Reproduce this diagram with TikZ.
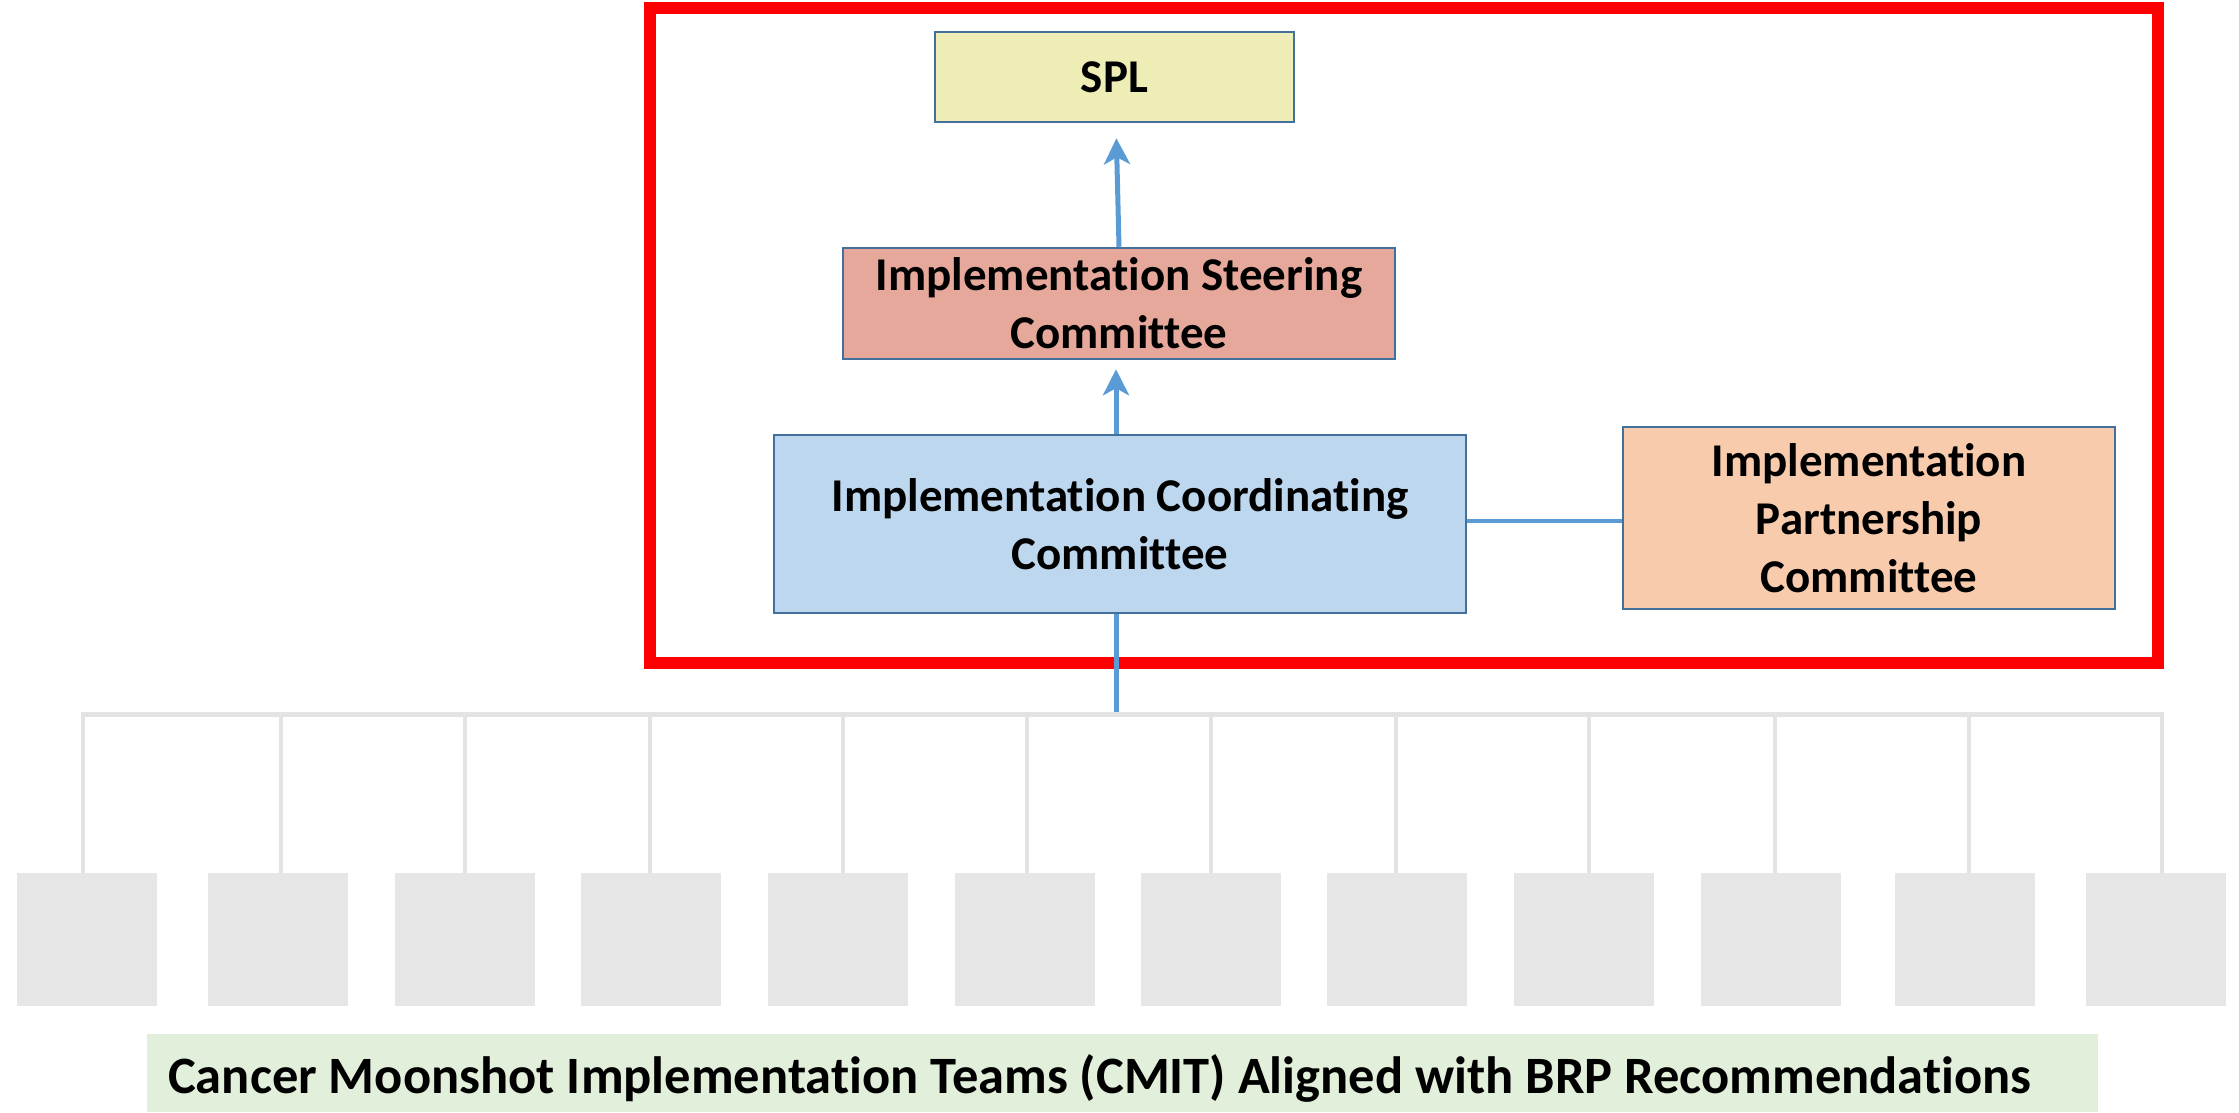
\documentclass[tikz,border=0pt]{standalone}
\usepackage{fontspec}
\setmainfont{Carlito}[RawFeature={-liga}]
\usetikzlibrary{arrows.meta,calc}
\definecolor{splfill}{HTML}{EEEDB5}
\definecolor{iscfill}{HTML}{E5A89A}
\definecolor{iccfill}{HTML}{BDD7EE}
\definecolor{ipcfill}{HTML}{F8CBAD}
\definecolor{boxline}{HTML}{41719C}
\definecolor{arrowblue}{HTML}{5B9BD5}
\definecolor{gbox}{HTML}{E6E6E6}
\definecolor{gline}{HTML}{E3E3E3}
\definecolor{labelfill}{HTML}{E2EFDA}
\begin{document}
\begin{tikzpicture}[x=1pt,y=-1pt,
  box/.style={draw=boxline, line width=2.5pt, align=center, inner sep=0pt, anchor=center,
    font=\bfseries\fontsize{47}{58}\selectfont},
  arr/.style={draw=arrowblue, line width=5pt, -{Stealth[length=26pt,width=26pt,inset=7pt]}},
  blueline/.style={draw=arrowblue, line width=5pt},
  teambox/.style={fill=gbox, draw=none, minimum width=140pt, minimum height=133pt, inner sep=0pt, anchor=center},
  grayline/.style={draw=gline, line width=4pt},
  frame/.style={draw=red, line width=12pt}
]
\useasboundingbox (0,0) rectangle (2239,1112);

% red frame
\draw[frame] (650,7.5) rectangle (2158,663);

% main committee boxes
\node[box, fill=splfill, minimum width=359pt, minimum height=90pt] (spl) at (1114.5,77) {SPL};
\node[box, fill=iscfill, minimum width=552pt, minimum height=111pt] (isc) at (1119,303.5) {Implementation Steering\\Committee};
\node[box, fill=iccfill, minimum width=692pt, minimum height=178pt] (icc) at (1120,524) {Implementation Coordinating\\Committee};
\node[box, fill=ipcfill, minimum width=492pt, minimum height=182pt] (ipc) at (1869,518) {Implementation\\Partnership\\Committee};

% gray bus
\coordinate (busL) at (81,714.5);
\coordinate (busR) at (2164,714.5);
\coordinate (bushit) at (1116,712);
\draw[grayline, line width=5pt] (busL) -- (busR);

% team boxes and drops
\foreach \cx/\vx [count=\i] in {87/83, 278/281, 465/465, 651/650, 837.5/843, 1025/1027, 1211/1211, 1397/1396, 1584/1589, 1771/1775, 1964.5/1969, 2155.5/2162}{
  \node[teambox] (t\i) at (\cx,939.5) {};
  \coordinate (d\i) at (\vx,714.5);
  \draw[grayline] (d\i) -- (t\i.north -| d\i);
}

% connectors
\draw[arr, shorten >=15pt] (isc.north) -- ([xshift=1.5pt]spl.south);
\draw[arr, shorten >=9pt] ([xshift=-4pt]icc.north) -- ([xshift=-3pt]isc.south);
\draw[blueline, line width=4pt] ([yshift=3pt]icc.east) -- ([yshift=-3pt]ipc.west);
\draw[blueline] ([xshift=-4pt]icc.south) -- (bushit);

% bottom label
\node[fill=labelfill, draw=none, minimum width=1951pt, minimum height=78pt, inner sep=0pt, anchor=center] (lbl) at (1122.5,1073) {};
\node[anchor=base west, inner sep=0pt, font=\bfseries\fontsize{52.5}{60}\selectfont] (lbltext) at (168,1093)
  {Cancer Moonshot Implementation Teams (CMIT) Aligned with BRP Recommendations};
\end{tikzpicture}
\end{document}
